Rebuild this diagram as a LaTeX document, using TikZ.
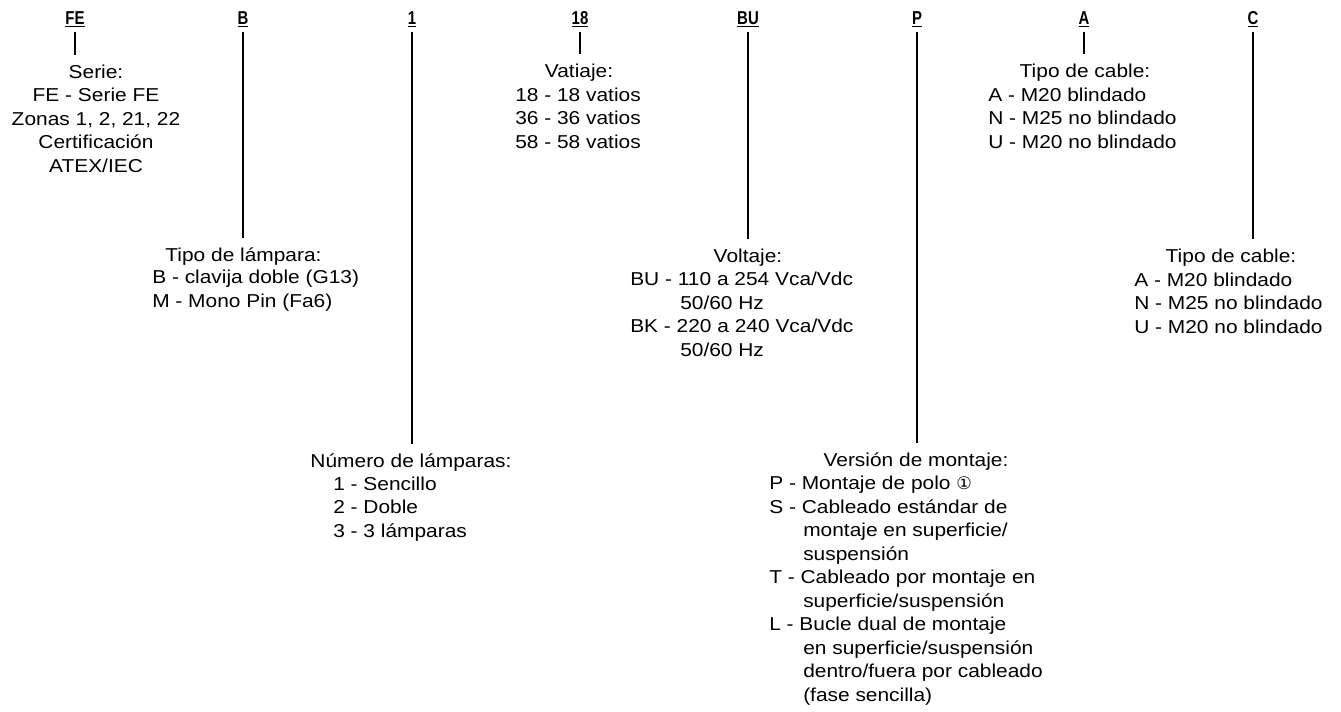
\documentclass[tikz,border=0pt]{standalone}
\usepackage{fontspec}
\setmainfont{Liberation Sans}[FakeStretch=1.12]
\newfontfamily\codefont{Liberation Sans}[FakeStretch=0.8]
\newfontfamily\circfont{DejaVu Sans}
\usetikzlibrary{positioning}

% underlined order code letters
\newcommand{\codeul}[1]{\setbox0=\hbox{#1}\rlap{\rule[-2.2pt]{\wd0}{0.9pt}}\box0}
\newcommand{\contind}{\hspace*{25.5pt}}

\begin{document}
\begin{tikzpicture}[
  x=0.75pt, y=-0.75pt,
  code/.style={font=\codefont\bfseries\fontsize{14}{14}\selectfont, inner sep=3pt, anchor=base},
  head/.style={font=\fontsize{14}{17.6}\selectfont, inner sep=0pt, outer ysep=7pt, anchor=base},
  % items are placed at the baseline of their last line
  items/.style={font=\fontsize{14}{17.6}\selectfont, inner sep=0pt, align=left, anchor=base west},
  lead/.style={line width=0.9pt},
]
\useasboundingbox (0,0) rectangle (1341,711);

% order code
\node[code] (cFE) at (75,24.5)   {\codeul{FE}};
\node[code] (cB)  at (243,24.5)  {\codeul{B}};
\node[code] (c1)  at (412,24.5)  {\codeul{1}};
\node[code] (c18) at (580,24.5)  {\codeul{18}};
\node[code] (cBU) at (748,24.5)  {\codeul{BU}};
\node[code] (cP)  at (917,24.5)  {\codeul{P}};
\node[code] (cA)  at (1084,24.5) {\codeul{A}};
\node[code] (cC)  at (1253,24.5) {\codeul{C}};

% top row
\node[head] (hFE) at (96,78) {Serie:};
\node[items, align=center, anchor=base] (iFE) at (96,172)
  {FE - Serie FE\\Zonas 1, 2, 21, 22\\Certificación\\ATEX/IEC};
\node[head] (h18) at (579,77) {Vatiaje:};
\node[items] (i18) at (515,148) {18 - 18 vatios\\36 - 36 vatios\\58 - 58 vatios};
\node[head] (hA) at (1085,77) {Tipo de cable:};
\node[items] (iA) at (988,148) {A - M20 blindado\\N - M25 no blindado\\U - M20 no blindado};

% middle row
\node[head] (hB) at (243.5,261) {Tipo de lámpara:};
\node[items] (iB) at (152,307) {B - clavija doble (G13)\\M - Mono Pin (Fa6)};
\node[head] (hBU) at (748,262) {Voltaje:};
\node[items] (iBU) at (630,356)
  {BU - 110 a 254 Vca/Vdc\\\hspace*{37.5pt}50/60 Hz\\BK - 220 a 240 Vca/Vdc\\\hspace*{37.5pt}50/60 Hz};
\node[head] (hC) at (1231,262) {Tipo de cable:};
\node[items] (iC) at (1134,333) {A - M20 blindado\\N - M25 no blindado\\U - M20 no blindado};

% bottom row
\node[head] (h1) at (411,467) {Número de lámparas:};
\node[items] (i1) at (333,537) {1 - Sencillo\\2 - Doble\\3 - 3 lámparas};
\node[head] (hP) at (916,466) {Versión de montaje:};
\node[items] (iP) at (769,701)
  {P - Montaje de polo {\circfont\fontsize{13}{13}\selectfont ①}\\
   S - Cableado estándar de\\
   \contind montaje en superficie/\\
   \contind suspensión\\
   T - Cableado por montaje en\\
   \contind superficie/suspensión\\
   L - Bucle dual de montaje\\
   \contind en superficie/suspensión\\
   \contind dentro/fuera por cableado\\
   \contind (fase sencilla)};

% leaders
\foreach \k in {FE,B,1,18,BU,P,A,C}
  \draw[lead] (c\k.south) -- (c\k.south |- h\k.north);
\end{tikzpicture}
\end{document}
